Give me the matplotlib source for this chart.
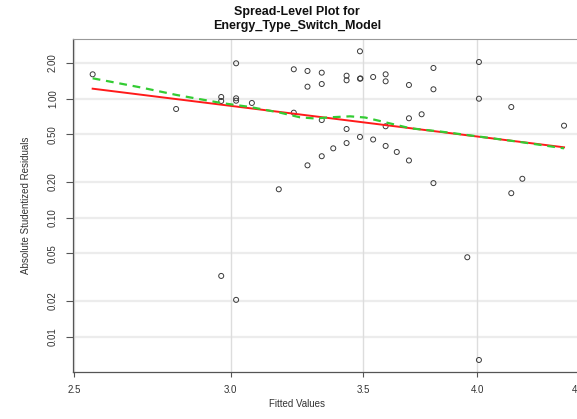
import numpy as np
import matplotlib
matplotlib.use("Agg")
import matplotlib.pyplot as plt
from matplotlib.ticker import FixedLocator, FixedFormatter, NullLocator

plt.rcParams['font.family'] = ['Liberation Sans', 'DejaVu Sans']

# Fitted values and absolute studentized residuals
fitted = [2.554, 2.815, 2.967, 2.967, 2.967, 3.019, 3.019, 3.019, 3.019, 3.075,
          3.173, 3.229, 3.229, 3.281, 3.281, 3.281, 3.336, 3.336, 3.336, 3.336,
          3.381, 3.434, 3.434, 3.434, 3.434, 3.488, 3.488, 3.490, 3.488, 3.542,
          3.542, 3.594, 3.594, 3.594, 3.594, 3.641, 3.693, 3.693, 3.693, 3.748,
          3.800, 3.800, 3.800, 3.953, 4.007, 4.007, 4.007, 4.161, 4.161, 4.215,
          4.425]
abs_resid = [1.598, 0.817, 1.031, 0.954, 0.0324, 1.977, 1.005, 0.959, 0.0204, 0.918,
             0.173, 1.761, 0.761, 1.704, 1.258, 0.275, 1.649, 1.325, 0.660, 0.328,
             0.382, 1.556, 1.423, 0.555, 0.423, 2.494, 1.468, 1.475, 0.476, 1.517,
             0.453, 1.598, 1.396, 0.585, 0.400, 0.356, 1.300, 0.683, 0.302, 0.738,
             1.806, 1.196, 0.195, 0.0465, 2.027, 0.997, 0.00638, 0.849, 0.1605, 0.212,
             0.592]

# Robust line on the log-log scale: log10(y) = a + b * log10(x)
fit_intercept = 0.9225
fit_slope = -2.062

# Smoother through the points
smooth_x = [2.554, 2.699, 2.817, 2.967, 3.069, 3.178, 3.252, 3.310, 3.368, 3.448,
            3.509, 3.583, 3.698, 3.829, 3.998, 4.204, 4.425]
smooth_y = [1.479, 1.243, 1.071, 0.918, 0.849, 0.761, 0.696, 0.680, 0.696, 0.709,
            0.693, 0.639, 0.563, 0.529, 0.482, 0.432, 0.382]

x_ticks = [2.5, 3.0, 3.5, 4.0, 4.5]
x_tick_labels = ["2.5", "3.0", "3.5", "4.0", "4.5"]
y_ticks = [0.01, 0.02, 0.05, 0.10, 0.20, 0.50, 1.00, 2.00]
y_tick_labels = ["0.01", "0.02", "0.05", "0.10", "0.20", "0.50", "1.00", "2.00"]

W, H = 577, 419
fig = plt.figure(figsize=(W / 100, H / 100), dpi=100)
ax = fig.add_axes([73.3 / W, 46.7 / H, 524.0 / W, 333.0 / H])

ax.set_xscale('log')
ax.set_yscale('log')
ax.set_xlim(2.497, 4.6)
ax.set_ylim(0.005028, 3.144)

for yt in y_ticks:
    ax.axhline(yt, color='#ececec', lw=1.6, zorder=0)
for xt in x_ticks:
    ax.axvline(xt, color='#dddddd', lw=1.0, zorder=0)

ax.scatter(fitted, abs_resid, s=13, facecolors='none', edgecolors='#3a3a3a',
           linewidths=0.7, zorder=3)

fx = np.array([min(fitted), max(fitted)])
fy = 10 ** (fit_intercept + fit_slope * np.log10(fx))
ax.plot(fx, fy, color='#ff1a1a', lw=1.4, zorder=4)
ax.plot(smooth_x, smooth_y, color='#33cc33', lw=1.6, ls=(0, (3.5, 2.6)), zorder=5)

ax.xaxis.set_major_locator(FixedLocator(x_ticks))
ax.xaxis.set_major_formatter(FixedFormatter(x_tick_labels))
ax.xaxis.set_minor_locator(NullLocator())
ax.yaxis.set_major_locator(FixedLocator(y_ticks))
ax.yaxis.set_major_formatter(FixedFormatter(y_tick_labels))
ax.yaxis.set_minor_locator(NullLocator())

ax.tick_params(axis='x', length=3.5, width=0.8, color='#555555', labelsize=7,
               labelcolor='#333333', pad=6)
ax.tick_params(axis='y', length=5, width=0.8, color='#555555', labelsize=7,
               labelcolor='#333333', pad=6)
for lbl in ax.get_yticklabels():
    lbl.set_rotation(90)
    lbl.set_va('center')

for side in ['left', 'bottom']:
    ax.spines[side].set_color('#555555')
    ax.spines[side].set_linewidth(0.9)
ax.spines['top'].set_color('#999999')
ax.spines['top'].set_linewidth(0.8)
ax.spines['right'].set_visible(False)

fig.text(26 / W, 1 - 205 / H, "Absolute Studentized Residuals", rotation=90,
         ha='center', va='center', fontsize=7, color='#333333')
fig.text(297 / W, 1 - 404 / H, "Fitted Values", ha='center', va='center',
         fontsize=7, color='#333333')
fig.text(297 / W, 1 - 12.5 / H, "Spread-Level Plot for", ha='center', va='center',
         fontsize=9, fontweight='bold', color='#111111')
fig.text(297 / W, 1 - 25.5 / H, "Energy_Type_Switch_Model", ha='center', va='center',
         fontsize=9, fontweight='bold', color='#111111')

fig.savefig("out.png", dpi=100)
